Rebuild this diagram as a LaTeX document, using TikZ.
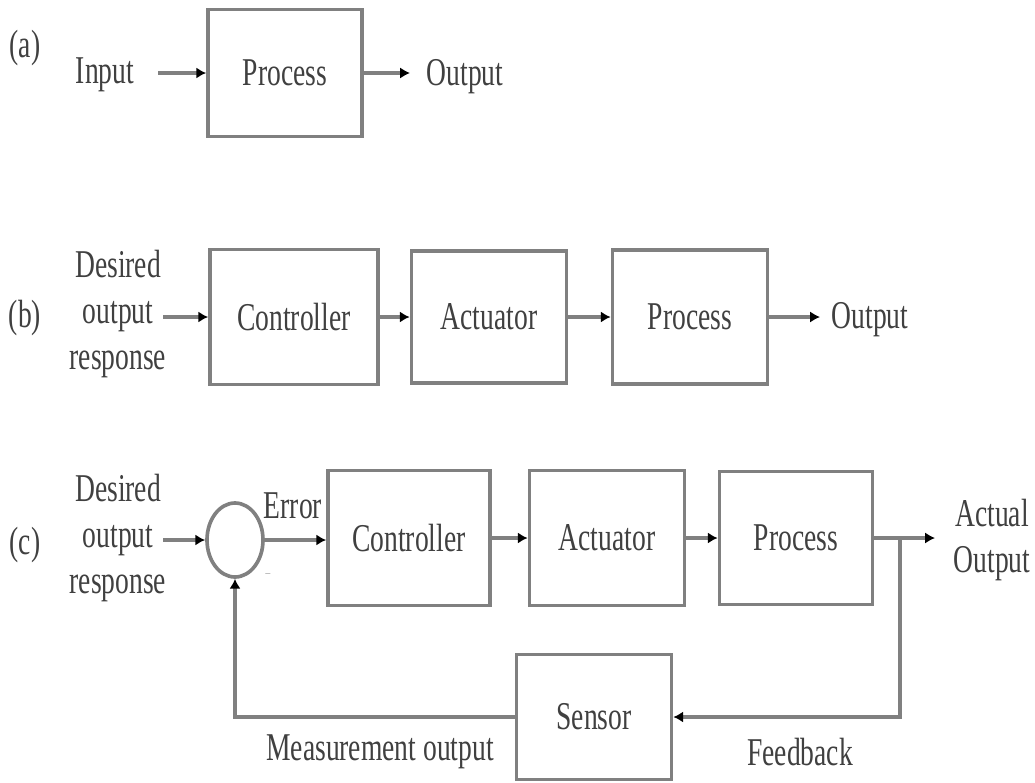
\documentclass[tikz,border=0pt]{standalone}
\usepackage{fontspec}
\setmainfont[FakeStretch=0.7]{Liberation Serif}
\usetikzlibrary{shapes,arrows.meta}

\tikzset{
    block/.style={rectangle, draw=black!50, line width=2.6pt},
    sig/.style={draw=black!50, line width=2.6pt, -{Latex[black,length=7pt,width=8pt]}},
    lbl/.style={font=\fontsize{28}{33}\selectfont, text=black!75, align=center}
}

\begin{document}
\begin{tikzpicture}[x=0.025cm, y=-0.025cm]
    \useasboundingbox (0,0) rectangle (1035,783);

    % (a) open process
    \node [lbl] (la) at (25,48) {(a)};
    \node [lbl] (ain) at (105,75) {Input};
    \node (aP) [block, minimum width=154*0.025cm, minimum height=127*0.025cm, lbl] at (285,73) {Process};
    \node [lbl] (aout) at (465,77) {Output};
    \coordinate (a0) at (158,73);
    \coordinate (a1) at (410,73);
    \draw [sig] (a0) -- (aP.west);
    \draw [sig] (aP.east) -- (a1);

    % (b) open loop
    \node [lbl] (lb) at (25,318) {(b)};
    \node [lbl] (bin) at (118,314) {Desired\\output\\response};
    \node (bC) [block, minimum width=168*0.025cm, minimum height=135*0.025cm, lbl] at (294,317) {Controller};
    \node (bA) [block, minimum width=155*0.025cm, minimum height=132*0.025cm, lbl] at (489,317) {Actuator};
    \node (bP) [block, minimum width=155*0.025cm, minimum height=134*0.025cm, lbl] at (690,317) {Process};
    \node [lbl] (bout) at (870,320) {Output};
    \coordinate (b0) at (163,317);
    \coordinate (b1) at (820,317);
    \draw [sig] (b0) -- (bC.west);
    \draw [sig] (bC.east) -- (bA.west);
    \draw [sig] (bA.east) -- (bP.west);
    \draw [sig] (bP.east) -- (b1);

    % (c) closed loop
    \node [lbl] (lc) at (25,545) {(c)};
    \node [lbl] (cin) at (118,538) {Desired\\output\\response};
    \node (sum) [ellipse, draw=black!50, line width=2.6pt, minimum width=56*0.025cm, minimum height=74*0.025cm] at (235,540) {};
    \node [lbl] (err) at (293,506) {Error};
    \node [font=\tiny, text=black!60] (minus) at (268,574) {$-$};
    \node (cC) [block, minimum width=162*0.025cm, minimum height=135*0.025cm, lbl] at (409,538) {Controller};
    \node (cA) [block, minimum width=155*0.025cm, minimum height=135*0.025cm, lbl] at (607,538) {Actuator};
    \node (cP) [block, minimum width=153*0.025cm, minimum height=133*0.025cm, lbl] at (796,538) {Process};
    \node [lbl] (cout) at (992,540) {Actual\\Output};
    \node (cS) [block, minimum width=155*0.025cm, minimum height=125*0.025cm, lbl] at (594,717) {Sensor};
    \node [lbl] (meas) at (380,752) {Measurement output};
    \node [lbl] (fb) at (800,752) {Feedback};
    \coordinate (c0) at (163,540);
    \coordinate (c1) at (935,538);
    \coordinate (br) at (900,538);
    \draw [sig] (c0) -- (sum.west);
    \draw [sig] (sum.east) -- (cC.west |- sum.east);
    \draw [sig] (cC.east) -- (cA.west);
    \draw [sig] (cA.east) -- (cP.west);
    \draw [sig] (cP.east) -- (c1);
    \draw [sig] (br) |- (cS.east);
    \draw [sig] (cS.west) -| (sum.south);
\end{tikzpicture}
\end{document}
